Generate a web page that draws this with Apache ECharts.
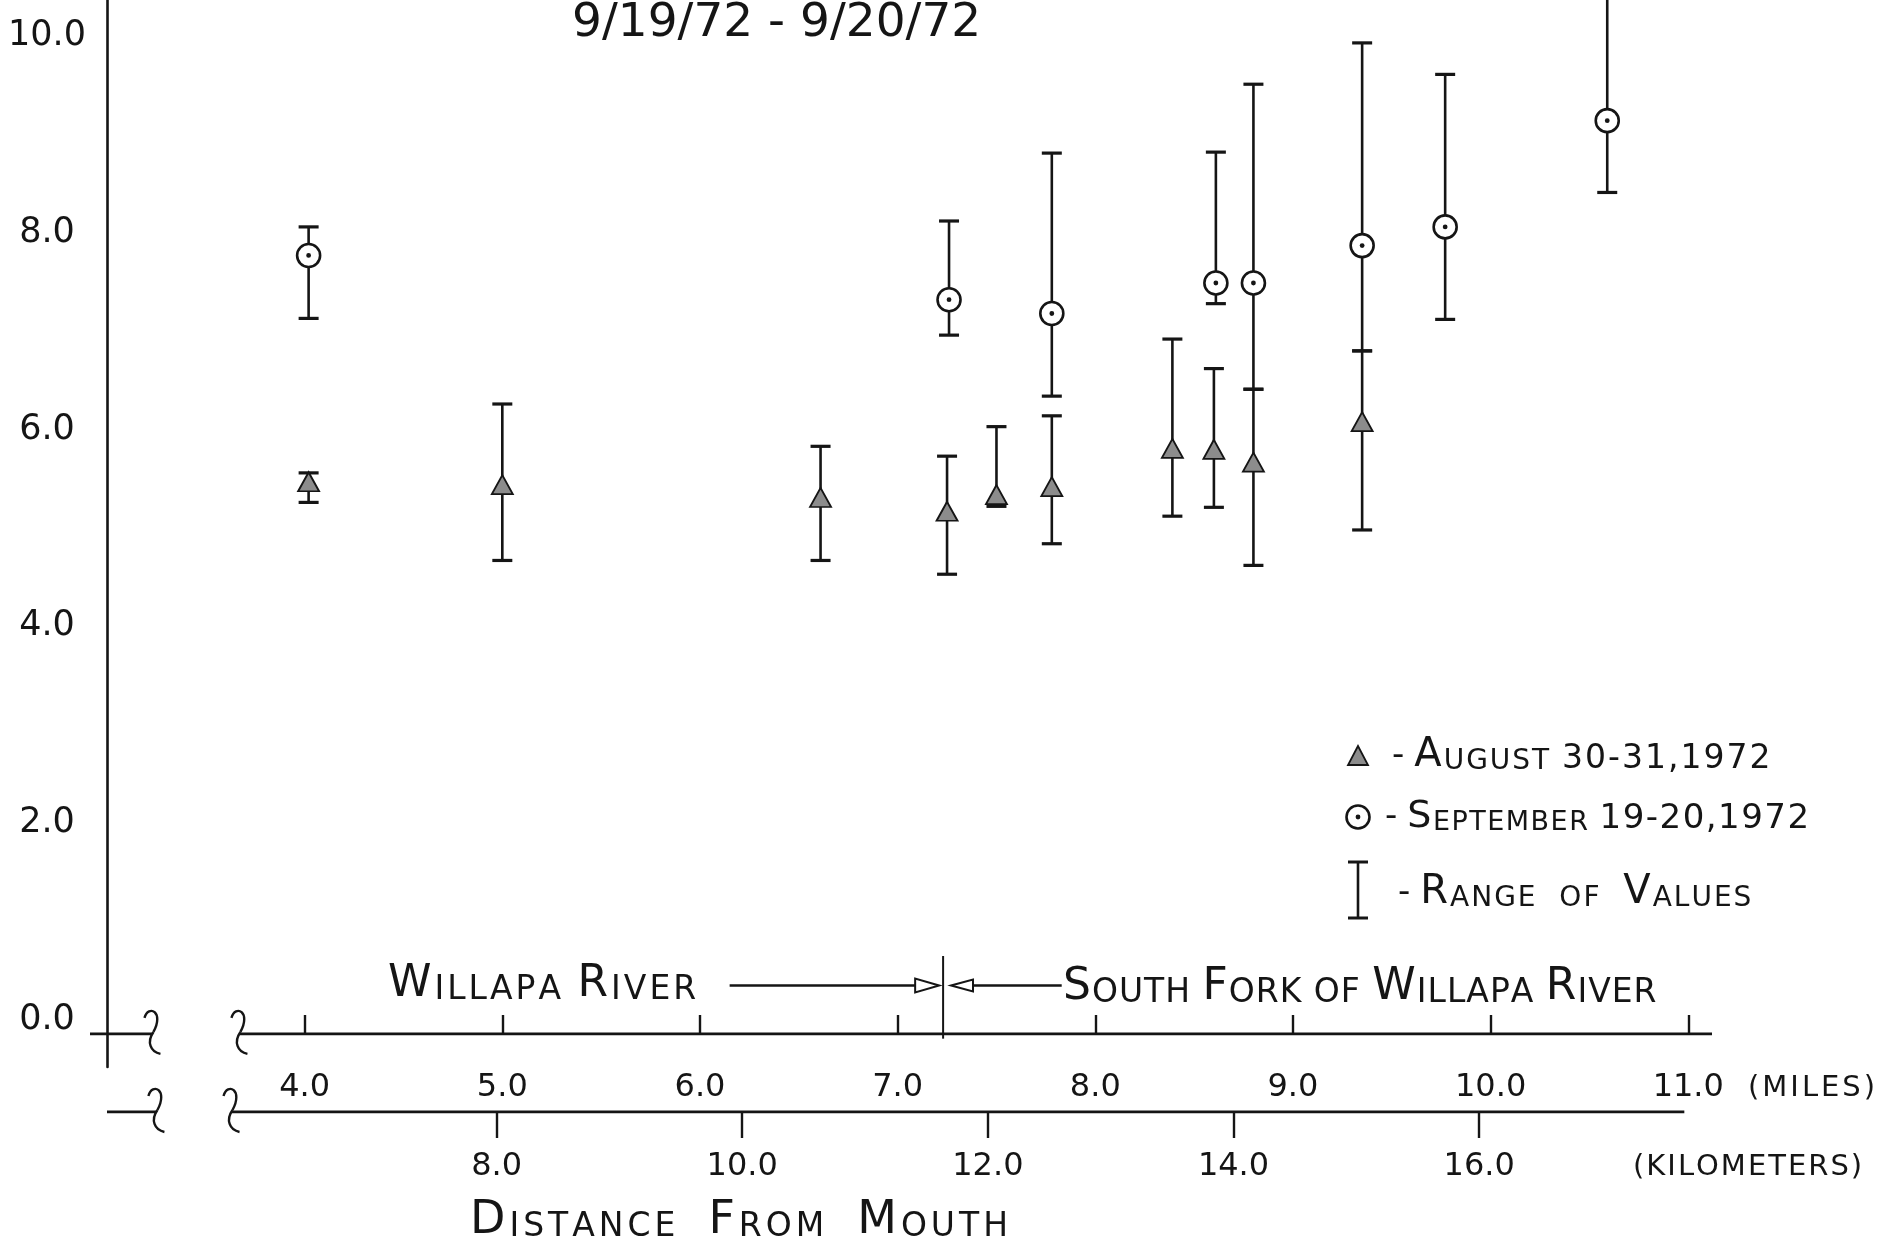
<!DOCTYPE html>
<html><head><meta charset="utf-8">
<script src="https://cdn.jsdelivr.net/npm/echarts@6/dist/echarts.min.js"></script>
<style>html,body{margin:0;padding:0;background:#fff}#c{width:1890px;height:1237px}</style>
</head><body><div id="c"></div>
<script>
// ---- data (distance in miles) ----
const augMiles = [4.02, 5.00, 6.61, 7.25, 7.50, 7.78, 8.39, 8.60, 8.80, 9.35];
const augMean  = [5.47, 5.44, 5.31, 5.17, 5.34, 5.42, 5.81, 5.80, 5.67, 6.08];
const augHigh  = [5.56, 6.26, 5.83, 5.73, 6.03, 6.14, 6.92, 6.62, 6.41, 6.80];
const augLow   = [5.26, 4.67, 4.67, 4.53, 5.22, 4.84, 5.12, 5.21, 4.62, 4.98];

const sepMiles = [4.02, 7.26, 7.78, 8.61, 8.80, 9.35, 9.77, 10.59];
const sepMean  = [7.77, 7.32, 7.18, 7.49, 7.49, 7.87, 8.06, 9.14];
const sepHigh  = [8.06, 8.12, 8.81, 8.82, 9.51, 9.93, 9.61, 10.60];
const sepLow   = [7.13, 6.96, 6.34, 7.28, 6.41, 6.80, 7.12, 8.41];

const yTicks = [0, 2, 4, 6, 8, 10];
const mileTicks = [4, 5, 6, 7, 8, 9, 10, 11];
const kmTicks = [8, 10, 12, 14, 16];
const KM_PER_MILE = 1.609344;
const confluenceMile = 7.23;

// ---- layout constants (axis extents, decorations) ----
const X_MIN = 3, X_MAX = 11.12, Y_MIN = -0.478, Y_MAX = 10.366;
const milesAxisY = -0.142, kmAxisY = -0.935;
const axisStartMile = 2.914, breakFromMile = 3.23, breakToMile = 3.67;
const milesAxisEnd = 11.12, kmAxisEnd = 10.98;
const arrowY = 0.35, leftArrowFrom = 6.15, rightArrowFrom = 7.83;

const FONT = 'DejaVu Sans';
const INK = '#151515';

function sc(str) {
  // small-caps style rich string
  let out = '';
  str.split(' ').forEach((w, wi) => {
    if (wi) out += '{s| }';
    const allSmall = (w === 'OF' || w === '-');
    [...w].forEach((ch, ci) => {
      let st = 's';
      if (!allSmall && ci === 0) st = 'b';
      if (/[0-9]/.test(ch)) st = 'd';
      if (/[,\-]/.test(ch) && w.length > 1) st = 'd';
      out += '{' + st + '|' + ch + '}';
    });
  });
  return out;
}
function spaced(str) {
  return [...str].map(ch => '{s|' + ch + '}').join('');
}
function richStyles(big, small, ls, digit) {
  const base = {fontFamily: FONT, fontWeight: 'normal', fill: INK, color: INK, verticalAlign: 'bottom', padding: [0, ls, 0, 0]};
  return {
    b: Object.assign({fontSize: big}, base),
    s: Object.assign({fontSize: small}, base),
    d: Object.assign({fontSize: digit || big}, base),
    m: Object.assign({}, base, {fontSize: 34, verticalAlign: 'middle', padding: [0, 10, 0, 0]})
  };
}

function renderRange(params, api) {
  const x = api.value(0), lo = api.value(1), hi = api.value(2);
  const a = api.coord([x, hi]), b = api.coord([x, lo]);
  const hw = 10, st = {stroke: INK, lineWidth: 2.6};
  return {type: 'group', children: [
    {type: 'line', shape: {x1: a[0], y1: a[1], x2: b[0], y2: b[1]}, style: st},
    {type: 'line', shape: {x1: a[0] - hw, y1: a[1], x2: a[0] + hw, y2: a[1]}, style: {stroke: INK, lineWidth: 3.2}},
    {type: 'line', shape: {x1: b[0] - hw, y1: b[1], x2: b[0] + hw, y2: b[1]}, style: {stroke: INK, lineWidth: 3.2}}
  ]};
}
function renderCircle(params, api) {
  const p = api.coord([api.value(0), api.value(1)]);
  return {type: 'group', children: [
    {type: 'circle', shape: {cx: p[0], cy: p[1], r: 11.5}, style: {fill: '#fff', stroke: INK, lineWidth: 2.6}},
    {type: 'circle', shape: {cx: p[0], cy: p[1], r: 2.4}, style: {fill: INK}}
  ]};
}
function squiggle(p) {
  const x = p[0], y = p[1], st = {stroke: INK, lineWidth: 2.4, fill: null};
  return [
    {type: 'bezierCurve', shape: {x1: x - 8, y1: y - 16, cpx1: x - 4, cpy1: y - 30, cpx2: x + 12, cpy2: y - 22, x2: x + 1, y2: y - 2}, style: st},
    {type: 'bezierCurve', shape: {x1: x + 1, y1: y - 2, cpx1: x - 6, cpy1: y + 8, cpx2: x - 2, cpy2: y + 18, x2: x + 8, y2: y + 20}, style: st}
  ];
}
function renderDecor(params, api) {
  const P = (x, y) => api.coord([x, y]);
  const seg = (a, b, w) => ({type: 'line', shape: {x1: a[0], y1: a[1], x2: b[0], y2: b[1]}, style: {stroke: INK, lineWidth: w || 2.6}});
  let kids = [];
  // miles axis line with break
  const m0 = P(axisStartMile, milesAxisY), m1 = P(breakFromMile, milesAxisY), m2 = P(breakToMile, milesAxisY), m3 = P(milesAxisEnd, milesAxisY);
  kids.push(seg(m0, m1, 2.8), seg(m2, m3, 2.8));
  kids = kids.concat(squiggle(m1), squiggle(m2));
  // km axis line with break
  const k0 = P(X_MIN, kmAxisY), k1 = P(breakFromMile + 0.02, kmAxisY), k2 = P(breakToMile - 0.04, kmAxisY), k3 = P(kmAxisEnd, kmAxisY);
  kids.push(seg(k0, k1, 2.8), seg(k2, k3, 2.8));
  kids = kids.concat(squiggle(k1), squiggle(k2));
  // confluence line
  kids.push(seg(P(confluenceMile, 0.65), P(confluenceMile, -0.19), 2));
  // arrows
  const tL = P(confluenceMile - 0.02, arrowY);
  kids.push(seg(P(leftArrowFrom, arrowY), [tL[0] - 24, tL[1]], 2.6));
  kids.push({type: 'polygon', shape: {points: [[tL[0], tL[1]], [tL[0] - 24, tL[1] - 7], [tL[0] - 24, tL[1] + 7]]}, style: {fill: '#fff', stroke: INK, lineWidth: 2}});
  const tR = P(confluenceMile + 0.04, arrowY);
  kids.push(seg(P(rightArrowFrom, arrowY), [tR[0] + 22, tR[1]], 2.6));
  kids.push({type: 'polygon', shape: {points: [[tR[0], tR[1]], [tR[0] + 22, tR[1] - 6], [tR[0] + 22, tR[1] + 6]]}, style: {fill: '#fff', stroke: INK, lineWidth: 2}});
  return {type: 'group', children: kids};
}

const augRange = augMiles.map((m, i) => [m, augLow[i], augHigh[i]]);
const sepRange = sepMiles.map((m, i) => [m, sepLow[i], sepHigh[i]]);
const augPts = augMiles.map((m, i) => [m, augMean[i]]);
const sepPts = sepMiles.map((m, i) => [m, sepMean[i]]);

const labelFont = {fontFamily: FONT, color: INK};

const chart = echarts.init(document.getElementById('c'), null, {renderer: 'canvas'});
chart.setOption({
  animation: false,
  backgroundColor: '#fff',
  title: [
    {text: '9/19/72 - 9/20/72', left: 572, top: 0, padding: 0,
     textStyle: {fontSize: 47, fontWeight: 'normal', fontFamily: FONT, color: INK}},
    {text: sc('DISTANCE  FROM  MOUTH'), left: 470, top: 1198, padding: 0,
     textStyle: {fontWeight: 'normal', rich: richStyles(46, 33, 4)}}
  ],
  grid: {left: 107, right: 178, top: 0, bottom: 170, containLabel: false, outerBoundsMode: 'none'},
  xAxis: [
    {type: 'value', min: X_MIN, max: X_MAX, position: 'bottom', offset: -33,
     axisLine: {show: false, onZero: false},
     axisTick: {show: true, inside: true, length: 19, customValues: mileTicks, lineStyle: {color: INK, width: 2.4}},
     axisLabel: {customValues: mileTicks, formatter: v => v.toFixed(1), margin: 38, fontSize: 32, ...labelFont},
     splitLine: {show: false}},
    {type: 'value', min: X_MIN * KM_PER_MILE, max: X_MAX * KM_PER_MILE, position: 'bottom', offset: 45,
     axisLine: {show: false, onZero: false},
     axisTick: {show: true, inside: false, length: 26, customValues: kmTicks, lineStyle: {color: INK, width: 2.4}},
     axisLabel: {customValues: kmTicks, formatter: v => v.toFixed(1), margin: 39, fontSize: 32, ...labelFont},
     splitLine: {show: false}}
  ],
  yAxis: {type: 'value', min: Y_MIN, max: Y_MAX,
    axisLine: {show: true, onZero: false, lineStyle: {color: INK, width: 2.6}},
    axisTick: {show: false},
    axisLabel: {customValues: yTicks, formatter: v => v.toFixed(1), margin: 60, align: 'center', fontSize: 35, ...labelFont},
    splitLine: {show: false}},
  series: [
    {name: 'decor', type: 'custom', xAxisIndex: 0, yAxisIndex: 0, renderItem: renderDecor, data: [[X_MIN, 0]], silent: true, z: 1},
    {name: 'August range', type: 'custom', xAxisIndex: 0, renderItem: renderRange, encode: {x: 0, y: [1, 2]}, data: augRange, z: 2},
    {name: 'September range', type: 'custom', xAxisIndex: 0, renderItem: renderRange, encode: {x: 0, y: [1, 2]}, data: sepRange, z: 2},
    {name: 'August 30-31, 1972', type: 'scatter', xAxisIndex: 0, data: augPts, symbol: 'triangle', symbolSize: [21, 19],
     itemStyle: {color: '#8c8c8c', borderColor: INK, borderWidth: 1.8, opacity: 1}, z: 5},
    {name: 'September 19-20, 1972', type: 'custom', xAxisIndex: 0, renderItem: renderCircle, encode: {x: 0, y: 1}, data: sepPts, z: 5}
  ],
  graphic: [
    {type: 'text', x: 388, y: 985, style: {text: sc('WILLAPA RIVER'), rich: richStyles(44, 33, 3), verticalAlign: 'middle'}},
    {type: 'text', x: 1063, y: 988, style: {text: sc('SOUTH FORK OF WILLAPA RIVER'), rich: richStyles(44, 33, 1), verticalAlign: 'middle'}},
    {type: 'text', x: 1748, y: 1088, style: {text: spaced('(MILES)'), rich: richStyles(30, 29, 3), verticalAlign: 'middle'}},
    {type: 'text', x: 1633, y: 1167, style: {text: spaced('(KILOMETERS)'), rich: richStyles(30, 29, 2), verticalAlign: 'middle'}},
    // legend
    {type: 'polygon', shape: {points: [[1358, 746], [1348, 765], [1368, 765]]}, style: {fill: '#8c8c8c', stroke: INK, lineWidth: 1.8}},
    {type: 'text', x: 1392, y: 756, style: {text: '{m|-}' + sc('AUGUST 30-31,1972'), rich: richStyles(40, 28, 2, 33), verticalAlign: 'middle'}},
    {type: 'circle', shape: {cx: 1358, cy: 817, r: 11.5}, style: {fill: '#fff', stroke: INK, lineWidth: 2.6}},
    {type: 'circle', shape: {cx: 1358, cy: 817, r: 2.4}, style: {fill: INK}},
    {type: 'text', x: 1385, y: 817, style: {text: '{m|-}' + sc('SEPTEMBER 19-20,1972'), rich: richStyles(38, 27, 1.5, 34), verticalAlign: 'middle'}},
    {type: 'line', shape: {x1: 1358, y1: 862, x2: 1358, y2: 918}, style: {stroke: INK, lineWidth: 2.6}},
    {type: 'line', shape: {x1: 1348, y1: 862, x2: 1368, y2: 862}, style: {stroke: INK, lineWidth: 3}},
    {type: 'line', shape: {x1: 1348, y1: 918, x2: 1368, y2: 918}, style: {stroke: INK, lineWidth: 3}},
    {type: 'text', x: 1398, y: 893, style: {text: '{m|-}' + sc('RANGE  OF  VALUES'), rich: richStyles(40, 28, 2), verticalAlign: 'middle'}}
  ]
});
</script>
</body></html>
